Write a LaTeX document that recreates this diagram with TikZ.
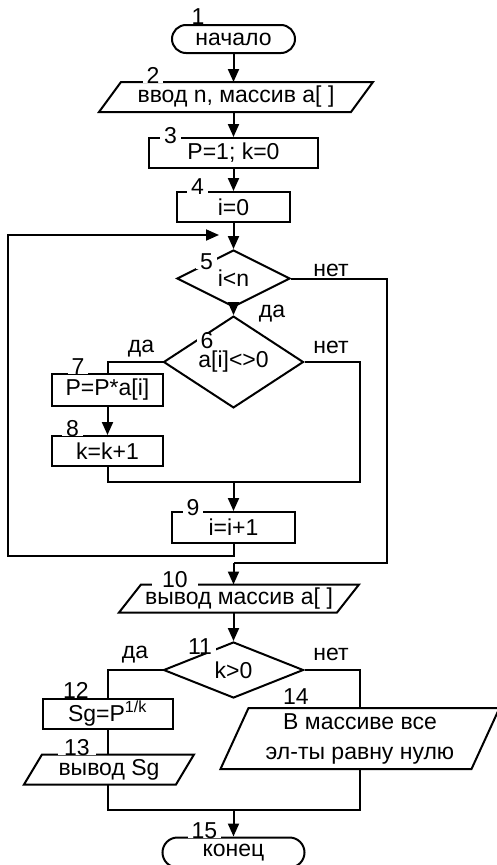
\documentclass[tikz,border=0pt]{standalone}
\usepackage{fontspec}
\setmainfont{Liberation Sans}
\usetikzlibrary{positioning, shapes.geometric, arrows.meta}

\begin{document}
\begin{tikzpicture}[x=1pt, y=-1pt, line width=2pt,
  >={Triangle[length=13pt,width=11pt]},
  font=\fontsize{23pt}{27pt}\selectfont,
  term/.style={draw, rectangle, rounded corners=14pt, minimum height=28pt, inner sep=0pt},
  proc/.style={draw, rectangle, minimum height=30pt, inner sep=0pt},
  io/.style={rectangle, minimum height=28pt, inner sep=0pt},
  cond/.style={draw, diamond, inner sep=0pt},
  num/.style={fill=white, inner xsep=4pt, inner ysep=-1pt},
  yn/.style={inner sep=0pt}]
  \useasboundingbox (0,0) rectangle (497,865);

  % blocks
  \node[term, minimum width=123pt] (t1) at (233.5,39) {начало};
  \node[io, minimum width=250pt] (io2) at (236,97) {ввод n, массив а[ ]};
  \node[proc, minimum width=169pt] (b3) at (233.5,153) {P=1; k=0};
  \node[proc, minimum width=113pt] (b4) at (233.5,207) {i=0};
  \node[cond, minimum width=113pt, minimum height=57pt] (d5) at (233.5,278.5) {i<n};
  \node[cond, minimum width=140pt, minimum height=58pt] (d6) at (233.5,362) {a[i]<>0};
  \node[proc, minimum width=111pt, minimum height=32pt] (b7) at (107.5,390) {P=P*a[i]};
  \node[proc, minimum width=111pt] (b8) at (107.5,451) {k=k+1};
  \node[proc, minimum width=123pt, minimum height=31pt] (b9) at (233.5,527.5) {i=i+1};
  \node[io, minimum width=216pt, minimum height=26pt] (io10) at (239,598.5) {вывод массив а[ ]};
  \node[cond, minimum width=140pt, minimum height=56pt] (d11) at (233.5,670) {k>0};
  \node[proc, minimum width=130pt] (b12) at (107.5,714) {Sg=P\textsuperscript{1/k}};
  \node[io, minimum width=150pt] (io13) at (109,769.5) {вывод Sg};
  \node[io, minimum width=249pt, minimum height=59pt, align=center] (io14) at (360,738.5)
       {В массиве все\\[3pt]эл-ты равну нулю};
  \node[term, minimum width=142pt, minimum height=30pt, rounded corners=15pt] (t15) at (233.5,852.5) {конец};

  % parallelograms for input / output
  \draw ([xshift=11pt]io2.north west) -- ([xshift=11pt]io2.north east)
     -- ([xshift=-11pt]io2.south east) -- ([xshift=-11pt]io2.south west) -- cycle;
  \draw ([xshift=11pt]io10.north west) -- ([xshift=11pt]io10.north east)
     -- ([xshift=-11pt]io10.south east) -- ([xshift=-11pt]io10.south west) -- cycle;
  \draw ([xshift=9pt]io13.north west) -- ([xshift=9pt]io13.north east)
     -- ([xshift=-9pt]io13.south east) -- ([xshift=-9pt]io13.south west) -- cycle;
  \draw ([xshift=14pt]io14.north west) -- ([xshift=14pt]io14.north east)
     -- ([xshift=-14pt]io14.south east) -- ([xshift=-14pt]io14.south west) -- cycle;

  % joints
  \coordinate (m6) at (360,482);
  \coordinate (lp1) at (8,556);
  \coordinate (lp2) at (8,235);
  \coordinate (lpend) at (219,235);
  \coordinate (m5) at (387,563);
  \coordinate (m10) at (233.5,563);
  \coordinate (m13) at (360,810);

  % main line
  \draw[->] (t1.south) -- (t1.south |- io2.north);
  \draw[->] (io2.south -| b3) -- (b3);
  \draw[->] (b3) -- (b4);
  \draw[->] (b4) -- (d5);
  \draw[->] (d5) -- (d6);
  \draw (d6.west) -| (b7.north);
  \draw[->] (b7) -- (b8);
  \draw (b8.south) |- (m6) |- (d6.east);
  \draw[->] (m6 -| b9) -- (b9);
  % loop back
  \draw[->] (b9.south) |- (lp1) -- (lp2) -- (lpend);
  % exit of the loop
  \draw (d5.east) -| (m5) -- (m10);
  \draw[->] (m10) -- (m10 |- io10.north);
  \draw[->] (io10.south -| d11) -- (d11);
  \draw (d11.west) -| (b12.north);
  \draw (b12.south) -- (b12.south |- io13.north);
  \draw (d11.east) -| (io14.north);
  \draw (io13.south -| b12) |- (m13) -- (io14.south);
  \draw[->] (m13 -| t15) -- (t15);

  % yes / no
  \node[yn] (y5) at (272,314) {да};
  \node[yn] (no5) at (331,270) {нет};
  \node[yn] (y6) at (141,349) {да};
  \node[yn] (no6) at (331,347) {нет};
  \node[yn] (y11) at (135,655) {да};
  \node[yn] (no11) at (331,654) {нет};

  % block numbers
  \node[num] (n1) at (198,17) {1};
  \node[num] (n2) at (153,75.5) {2};
  \node[num] (n3) at (170.5,135.5) {3};
  \node[num] (n4) at (197.5,187) {4};
  \node[num] (n5) at (206.5,262) {5};
  \node[num] (n6) at (207,341) {6};
  \node[num] (n7) at (78,367) {7};
  \node[num] (n8) at (72.5,429) {8};
  \node[num] (n9) at (193,508) {9};
  \node[num, inner xsep=10pt] (n10) at (175,579.5) {10};
  \node[num] (n11) at (200,647) {11};
  \node[num, inner xsep=6pt] (n12) at (76,690) {12};
  \node[num, inner xsep=6pt] (n13) at (77,747.5) {13};
  \node[num, inner xsep=10pt] (n14) at (296,697) {14};
  \node[num] (n15) at (204.5,830.5) {15};
\end{tikzpicture}
\end{document}
